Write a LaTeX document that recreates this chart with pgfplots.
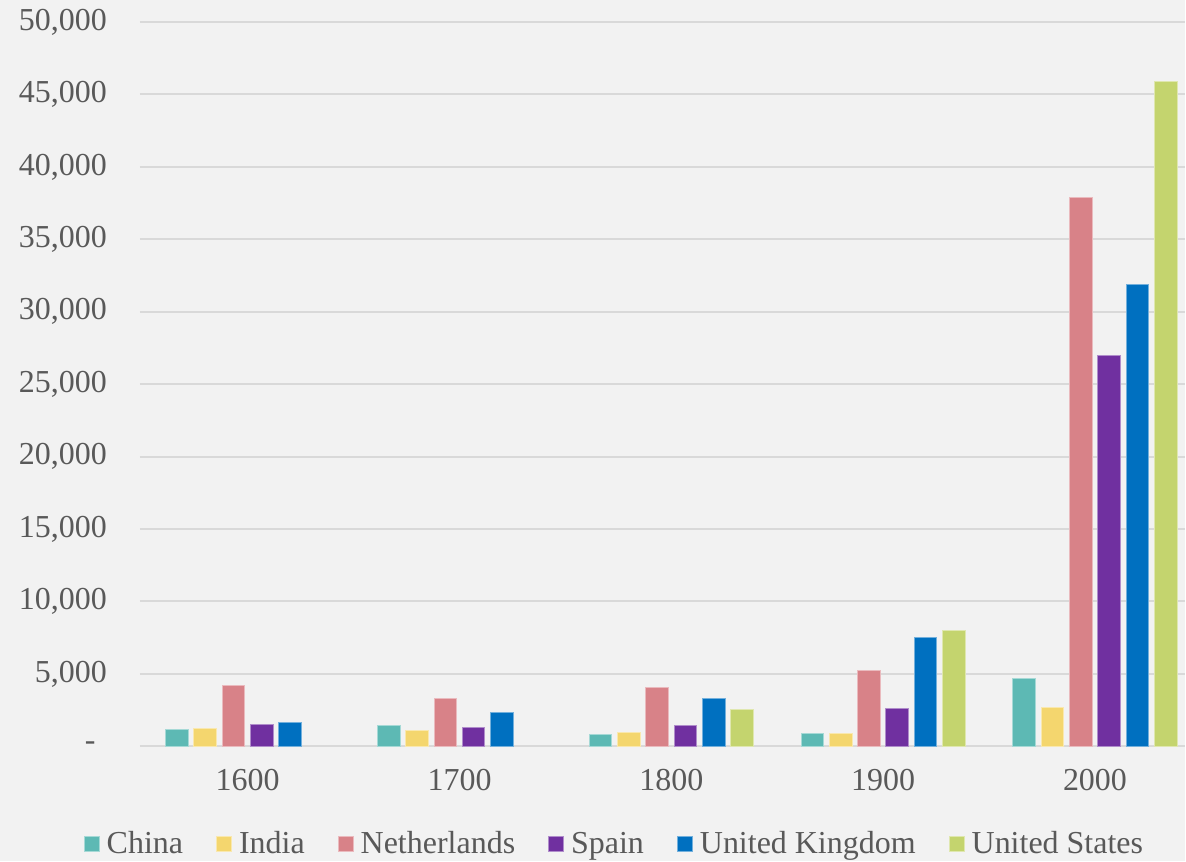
\documentclass[border=0pt]{standalone}
\usepackage{fontspec}
\setmainfont{Liberation Serif}
\usepackage{pgfplots}
\pgfplotsset{compat=1.18}
\usetikzlibrary{backgrounds}

\definecolor{bg}{HTML}{F2F2F2}
\definecolor{gridgray}{HTML}{D9D9D9}
\definecolor{textgray}{HTML}{595959}
\definecolor{cChina}{HTML}{5DB9B4}
\definecolor{cIndia}{HTML}{F4D66E}
\definecolor{cNeth}{HTML}{D88288}
\definecolor{cSpain}{HTML}{7030A0}
\definecolor{cUK}{HTML}{0070C0}
\definecolor{cUS}{HTML}{C4D46E}

\pgfplotsset{
  barstyle/.style={fill=#1, draw=#1!55!white, line width=0.5pt},
}

\begin{document}
\begin{tikzpicture}
\begin{axis}[
    scale only axis,
    width=523pt, height=362.5pt,
    xmin=-0.509, xmax=4.425,
    ymin=0, ymax=50000,
    ybar=2.8pt, bar width=11.35pt,
    axis line style={draw=none},
    major tick length=0pt,
    ymajorgrids=true,
    grid style={color=gridgray, line width=1pt},
    scaled y ticks=false,
    xtick={0,1,2,3,4},
    xticklabels={1600,1700,1800,1900,2000},
    ytick={0,5000,10000,15000,20000,25000,30000,35000,40000,45000,50000},
    yticklabels={\makebox[11pt][l]{-},{5,000},{10,000},{15,000},{20,000},{25,000},{30,000},{35,000},{40,000},{45,000},{50,000}},
    /pgf/number format/assume math mode=true,
    tick label style={font=\fontsize{16}{19}\selectfont, text=textgray},
    yticklabel style={xshift=-13pt},
    xticklabel style={yshift=-8pt},
    legend columns=6,
    legend cell align=left,
    legend style={
        at={(rel axis cs:0.455,-0.135)}, anchor=center,
        draw=none, fill=none,
        font=\fontsize{16}{19}\selectfont, text=textgray,
        /tikz/every odd column/.append style={column sep=1.5pt},
        /tikz/every even column/.append style={column sep=14.5pt},
        inner sep=0pt,
    },
    legend image code/.code={\fill[#1] (0pt,-3.75pt) rectangle (7.5pt,3.75pt);},
]
\addplot[barstyle=cChina] coordinates {(0,1180) (1,1470) (2,830) (3,900) (4,4650)};
\addlegendentry{China}
\addplot[barstyle=cIndia] coordinates {(0,1230) (1,1100) (2,970) (3,900) (4,2680)};
\addlegendentry{India}
\addplot[barstyle=cNeth] coordinates {(0,4200) (1,3310) (2,4070) (3,5240) (4,37870)};
\addlegendentry{Netherlands}
\addplot[barstyle=cSpain] coordinates {(0,1500) (1,1310) (2,1450) (3,2620) (4,26970)};
\addlegendentry{Spain}
\addplot[barstyle=cUK] coordinates {(0,1630) (1,2340) (2,3290) (3,7540) (4,31900)};
\addlegendentry{United Kingdom}
\addplot[barstyle=cUS] coordinates {(2,2530) (3,7980) (4,45900)};
\addlegendentry{United States}
\end{axis}
\begin{scope}[on background layer]
\fill[bg] (-70pt,-57.5pt) rectangle (523pt,373.5pt);
\end{scope}
\end{tikzpicture}
\end{document}
